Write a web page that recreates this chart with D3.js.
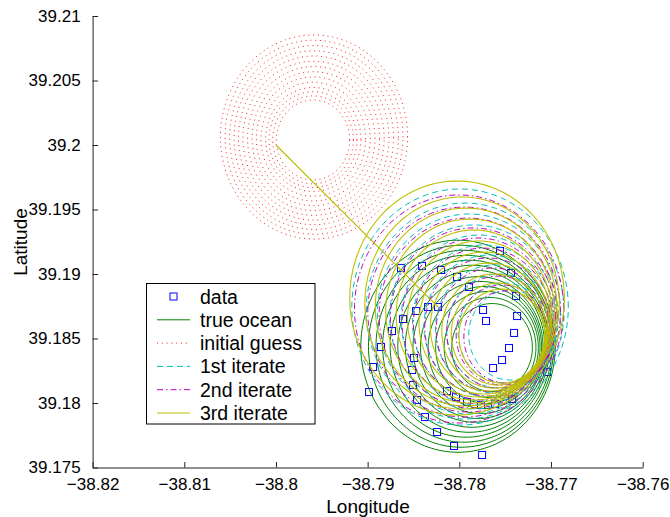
<!DOCTYPE html>
<html>
<head>
<meta charset="utf-8">
<script src="https://cdn.jsdelivr.net/npm/d3@7"></script>
<style>
  body { margin: 0; background: #fff; }
  svg { display: block; }
  text { font-family: Arial, "Liberation Sans", Helvetica, sans-serif; }
</style>
</head>
<body>
<script>
// axis ticks
const xTicks = [-38.82, -38.81, -38.8, -38.79, -38.78, -38.77, -38.76];
const xTickLabels = ["\u221238.82", "\u221238.81", "\u221238.8", "\u221238.79", "\u221238.78", "\u221238.77", "\u221238.76"];
const yTicks = [39.175, 39.18, 39.185, 39.19, 39.195, 39.2, 39.205, 39.21];
const yTickLabels = ["39.175", "39.18", "39.185", "39.19", "39.195", "39.2", "39.205", "39.21"];

// observed drifter positions (blue squares)
const dataLon = [-38.77556, -38.77436, -38.77381, -38.7737, -38.77403, -38.77458, -38.77534, -38.77632,
  -38.77741, -38.77709, -38.77894, -38.78025, -38.78199, -38.78407, -38.78636, -38.78232, -38.78341,
  -38.78472, -38.78614, -38.78734, -38.78854, -38.78941, -38.78985, -38.78494, -38.78516, -38.78505,
  -38.78461, -38.78374, -38.78243, -38.78058, -38.77752, -38.78134, -38.78036, -38.77916, -38.77763,
  -38.7761, -38.77425, -38.77043];
const dataLat = [39.19178, 39.19008, 39.18829, 39.18674, 39.18543, 39.18426, 39.18333, 39.18271,
  39.18721, 39.18636, 39.18899, 39.18977, 39.19031, 39.19062, 39.19047, 39.18744, 39.18744,
  39.18713, 39.18651, 39.18558, 39.18434, 39.18279, 39.18085, 39.18349, 39.18256, 39.1814,
  39.18023, 39.17891, 39.17775, 39.17667, 39.17597, 39.18093, 39.18047, 39.18008, 39.17984,
  39.17992, 39.18031, 39.1824];

// common straight leg of the tracks
const trackStart = [-38.8, 39.2];
const trackJoin = [-38.78232, 39.18744];

// loops of each track: centre lon, centre lat, radius (degrees of latitude)
const trueLon = [-38.78014, -38.77981, -38.77949, -38.77927, -38.77894, -38.77861, -38.77829, -38.77796, -38.77763, -38.7773, -38.77698, -38.77665, -38.77643];
const trueLat = [39.1844, 39.1844, 39.1844, 39.1844, 39.1844, 39.1844, 39.1844, 39.1843, 39.1843, 39.1843, 39.1843, 39.1843, 39.1843];
const trueR = [0.00822, 0.00783, 0.00744, 0.00705, 0.00667, 0.00628, 0.00589, 0.0055, 0.00512, 0.00473, 0.00434, 0.00388, 0.00341];

const guessLon = [-38.79585, -38.79585, -38.79585, -38.79588, -38.79588, -38.7959, -38.7959, -38.7959, -38.79593, -38.79593, -38.79593, -38.79596, -38.79596, -38.79596];
const guessLat = [39.20062, 39.2006, 39.20058, 39.20056, 39.20054, 39.20052, 39.2005, 39.20049, 39.20047, 39.20045, 39.20043, 39.20041, 39.2004, 39.20039];
const guessR = [0.00791, 0.00752, 0.00713, 0.00674, 0.00636, 0.00597, 0.00558, 0.00519, 0.00481, 0.00442, 0.00403, 0.00372, 0.00341, 0.0031];

const iter1Lon = [-38.77992, -38.77937, -38.77894, -38.7784, -38.77785, -38.7773, -38.77676, -38.77621, -38.77567, -38.77512, -38.77447];
const iter1Lat = [39.18744, 39.18713, 39.1869, 39.18667, 39.18643, 39.1862, 39.18597, 39.18574, 39.18558, 39.18543, 39.18527];
const iter1R = [0.00915, 0.00837, 0.00775, 0.00713, 0.00659, 0.00605, 0.0055, 0.00496, 0.00442, 0.00388, 0.00349];

const iter2Lon = [-38.78003, -38.77948, -38.77905, -38.77851, -38.77796, -38.77741, -38.77687, -38.77632, -38.77578, -38.77534, -38.7749];
const iter2Lat = [39.18729, 39.18705, 39.18682, 39.18659, 39.18636, 39.18612, 39.18589, 39.18566, 39.1855, 39.18527, 39.18512];
const iter2R = [0.00884, 0.00814, 0.00752, 0.00698, 0.00643, 0.00589, 0.00535, 0.00481, 0.00434, 0.00388, 0.00357];

const iter3Lon = [-38.78025, -38.7797, -38.77927, -38.77883, -38.77839, -38.77785, -38.7773, -38.77676, -38.77621, -38.77578, -38.77534];
const iter3Lat = [39.18814, 39.18775, 39.18744, 39.18713, 39.18682, 39.18651, 39.1862, 39.18589, 39.18558, 39.18535, 39.18519];
const iter3R = [0.00907, 0.00822, 0.00767, 0.00713, 0.00659, 0.00605, 0.0055, 0.00496, 0.00442, 0.00395, 0.00364];

const width = 670, height = 517;
const margin = { left: 92.6, right: 27.3, top: 16, bottom: 49.5 };

const x = d3.scaleLinear().domain([-38.82, -38.76]).range([margin.left, width - margin.right]);
const y = d3.scaleLinear().domain([39.175, 39.21]).range([height - margin.bottom, margin.top]);

const svg = d3.select("body").append("svg")
  .attr("width", width)
  .attr("height", height);

const series = [
  { name: "true ocean", lon: trueLon, lat: trueLat, r: trueR, color: "#008000", dash: null, leg: true, w: 1 },
  { name: "initial guess", lon: guessLon, lat: guessLat, r: guessR, color: "#ff1a1a", dash: "1,3.8", leg: false, w: 1 },
  { name: "1st iterate", lon: iter1Lon, lat: iter1Lat, r: iter1R, color: "#00bfbf", dash: "6,4", leg: true, w: 1 },
  { name: "2nd iterate", lon: iter2Lon, lat: iter2Lat, r: iter2R, color: "#bf00bf", dash: "6,3,1.5,3", leg: true, w: 1 },
  { name: "3rd iterate", lon: iter3Lon, lat: iter3Lat, r: iter3R, color: "#bfbf00", dash: null, leg: true, w: 1.1 }
];

const line = d3.line().x(d => x(d[0])).y(d => y(d[1]));
const ring = d3.line().x(d => x(d[0])).y(d => y(d[1])).curve(d3.curveLinearClosed);

function ringPoints(cLon, cLat, r) {
  const k = Math.cos(cLat * Math.PI / 180);
  const pts = [];
  for (let i = 0; i < 160; i++) {
    const t = i / 160 * 2 * Math.PI;
    pts.push([cLon + r / k * Math.cos(t), cLat + r * Math.sin(t)]);
  }
  return pts;
}

// data squares first (drawn underneath in the original)
svg.append("g").selectAll("rect").data(dataLon.map((d, i) => [d, dataLat[i]])).join("rect")
  .attr("x", d => x(d[0]) - 3.5)
  .attr("y", d => y(d[1]) - 3.5)
  .attr("width", 7).attr("height", 7)
  .attr("fill", "none")
  .attr("stroke", "#0000ff")
  .attr("stroke-width", 1);

series.forEach(s => {
  const g = svg.append("g")
    .attr("fill", "none")
    .attr("stroke", s.color)
    .attr("stroke-width", s.w)
    .attr("stroke-dasharray", s.dash);
  if (s.leg) {
    g.append("path").attr("d", line([trackStart, trackJoin]));
  }
  s.lon.forEach((c, i) => {
    g.append("path").attr("d", ring(ringPoints(c, s.lat[i], s.r[i])));
  });
});

// axes (left and bottom only, ticks pointing in)
const xAxis = d3.axisBottom(x).tickValues(xTicks)
  .tickFormat((d, i) => xTickLabels[i]).tickSize(-5.5).tickSizeOuter(0).tickPadding(10.5);
const yAxis = d3.axisLeft(y).tickValues(yTicks)
  .tickFormat((d, i) => yTickLabels[i]).tickSize(-5.5).tickSizeOuter(0).tickPadding(12);

const gx = svg.append("g").attr("transform", `translate(0,${height - margin.bottom})`).call(xAxis);
const gy = svg.append("g").attr("transform", `translate(${margin.left},0)`).call(yAxis);
[gx, gy].forEach(g => {
  g.selectAll("text").attr("font-size", 17).attr("fill", "#000")
    .style("font-family", "Arial, 'Liberation Sans', sans-serif");
  g.selectAll("line,path").attr("stroke", "#222");
});

svg.append("text")
  .attr("x", 368).attr("y", 513)
  .attr("text-anchor", "middle")
  .attr("font-size", 19)
  .text("Longitude");

svg.append("text")
  .attr("transform", "translate(27,242) rotate(-90)")
  .attr("text-anchor", "middle")
  .attr("font-size", 19)
  .text("Latitude");

// legend
const legNames = ["data", "true ocean", "initial guess", "1st iterate", "2nd iterate", "3rd iterate"];
const lg = svg.append("g");
lg.append("rect")
  .attr("x", 146.5).attr("y", 283.5)
  .attr("width", 168.5).attr("height", 140.5)
  .attr("fill", "#fff").attr("stroke", "#000").attr("stroke-width", 1);

legNames.forEach((name, i) => {
  const cy = 296.5 + i * 23.3;
  if (i === 0) {
    lg.append("rect").attr("x", 170).attr("y", cy - 3.5).attr("width", 7).attr("height", 7)
      .attr("fill", "none").attr("stroke", "#0000ff");
  } else {
    const s = series[i - 1];
    lg.append("line").attr("x1", 157).attr("x2", 190).attr("y1", cy).attr("y2", cy)
      .attr("stroke", s.color).attr("stroke-width", s.w).attr("stroke-dasharray", s.dash);
  }
  lg.append("text").attr("x", 200).attr("y", cy + 7)
    .attr("font-size", 19.5).text(name);
});
</script>
</body>
</html>
